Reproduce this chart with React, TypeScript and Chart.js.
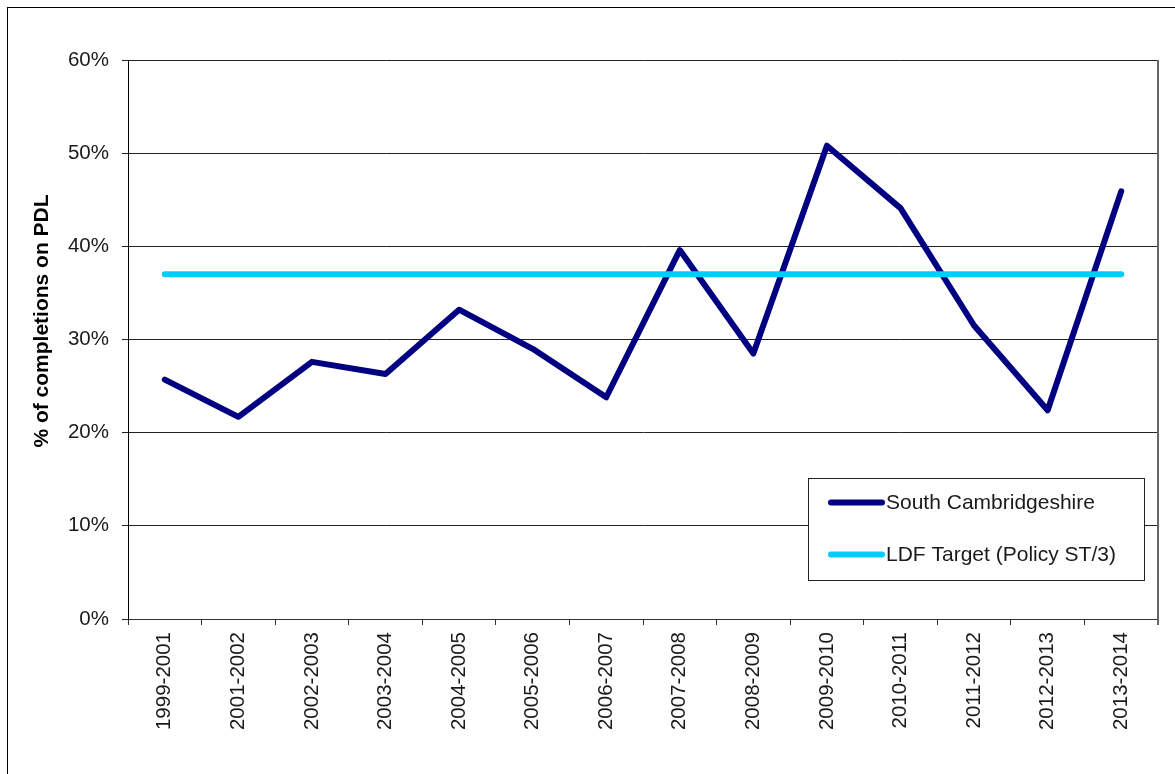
import React, { useEffect, useRef } from "react";
import { Chart, registerables } from "chart.js";

Chart.register(...registerables);

const periods = [
  "1999-2001",
  "2001-2002",
  "2002-2003",
  "2003-2004",
  "2004-2005",
  "2005-2006",
  "2006-2007",
  "2007-2008",
  "2008-2009",
  "2009-2010",
  "2010-2011",
  "2011-2012",
  "2012-2013",
  "2013-2014",
];

const southCambsPdl = [25.7, 21.7, 27.6, 26.3, 33.2, 29.0, 23.8, 39.6, 28.5, 50.8, 44.1, 31.5, 22.4, 45.9];

const ldfTarget = [37, 37, 37, 37, 37, 37, 37, 37, 37, 37, 37, 37, 37, 37];

const yTicksPct = [0, 10, 20, 30, 40, 50, 60];

const FONT = "'Liberation Sans', Arial, sans-serif";

// Y-axis title, drawn a little above the plot's vertical centre
const yTitlePlugin = {
  id: "yTitle",
  afterDraw(chart: any) {
    const { ctx } = chart;
    ctx.save();
    ctx.translate(34.5, 313);
    ctx.rotate(-Math.PI / 2);
    ctx.font = `bold 21px ${FONT}`;
    ctx.fillStyle = "#000";
    ctx.textAlign = "center";
    ctx.textBaseline = "middle";
    ctx.fillText("% of completions on PDL", 0, 0);
    ctx.restore();
  },
};

// Grey right-hand edge of the plot area
const plotEdgePlugin = {
  id: "plotEdge",
  beforeDatasetsDraw(chart: any) {
    const { ctx, chartArea } = chart;
    ctx.save();
    ctx.strokeStyle = "#666";
    ctx.lineWidth = 2;
    ctx.beginPath();
    ctx.moveTo(chartArea.right, chartArea.top);
    ctx.lineTo(chartArea.right, chartArea.bottom + 6);
    ctx.stroke();
    ctx.restore();
  },
};

// Boxed legend sitting inside the lower right of the plot
const boxLegendPlugin = {
  id: "boxLegend",
  afterDraw(chart: any) {
    const { ctx, chartArea } = chart;
    const w = 336;
    const h = 102;
    const x = chartArea.right - 14 - w;
    const y = chartArea.top + 418;
    ctx.save();
    ctx.fillStyle = "#fff";
    ctx.fillRect(x, y, w, h);
    ctx.strokeStyle = "#222";
    ctx.lineWidth = 1;
    ctx.strokeRect(Math.round(x) + 0.5, Math.round(y) + 0.5, w, h);
    const rows = [y + 24.6, y + 76.6];
    chart.data.datasets.forEach((ds: any, i: number) => {
      const ry = rows[i];
      ctx.strokeStyle = ds.borderColor;
      ctx.lineWidth = 6;
      ctx.lineCap = "round";
      ctx.beginPath();
      ctx.moveTo(x + 23, ry);
      ctx.lineTo(x + 74, ry);
      ctx.stroke();
      ctx.fillStyle = "#1a1a1a";
      ctx.font = `21px ${FONT}`;
      ctx.textAlign = "left";
      ctx.textBaseline = "middle";
      ctx.fillText(ds.label, x + 78, ry + 1);
    });
    ctx.restore();
  },
};

export default function App() {
  const canvasRef = useRef<HTMLCanvasElement | null>(null);

  useEffect(() => {
    if (!canvasRef.current) return;
    const chart = new Chart(canvasRef.current, {
      type: "line",
      data: {
        labels: periods,
        datasets: [
          {
            label: "South Cambridgeshire",
            data: southCambsPdl,
            borderColor: "#000080",
            backgroundColor: "#000080",
            borderWidth: 6,
            borderCapStyle: "round",
            borderJoinStyle: "round",
            pointRadius: 0,
            tension: 0,
            order: 1,
          },
          {
            label: "LDF Target (Policy ST/3)",
            data: ldfTarget,
            borderColor: "#00CCFF",
            backgroundColor: "#00CCFF",
            borderWidth: 6,
            borderCapStyle: "round",
            pointRadius: 0,
            tension: 0,
            order: 0,
          },
        ],
      },
      options: {
        responsive: false,
        animation: false,
        layout: { padding: { top: 52, right: 17, left: 0, bottom: 0 } },
        plugins: {
          legend: { display: false },
          tooltip: { enabled: false },
          title: { display: false },
        },
        scales: {
          x: {
            type: "category",
            offset: true,
            grid: {
              offset: true,
              drawOnChartArea: false,
              drawTicks: true,
              tickLength: 6,
              color: "#333",
              lineWidth: 1,
            },
            border: { display: true, color: "#333", width: 1 },
            ticks: {
              autoSkip: false,
              maxRotation: 90,
              minRotation: 90,
              padding: 7,
              color: "#1a1a1a",
              font: { family: FONT, size: 20.5 },
            },
            afterFit(scale: any) {
              scale.height = 155;
            },
          },
          y: {
            min: yTicksPct[0],
            max: yTicksPct[yTicksPct.length - 1],
            afterBuildTicks(scale: any) {
              scale.ticks = yTicksPct.map((v) => ({ value: v }));
            },
            grid: {
              color: "#222",
              lineWidth: 1,
              drawTicks: true,
              tickLength: 6,
            },
            border: { display: true, color: "#000", width: 1 },
            ticks: {
              padding: 13,
              color: "#1a1a1a",
              font: { family: FONT, size: 20.5 },
              callback: (v: any) => `${v}%`,
            },
            afterFit(scale: any) {
              scale.width = 120;
            },
          },
        },
      },
      plugins: [plotEdgePlugin, yTitlePlugin, boxLegendPlugin],
    } as any);
    return () => chart.destroy();
  }, []);

  return (
    <div
      style={{
        position: "fixed",
        left: 7,
        top: 7,
        width: 1168,
        height: 767,
        borderTop: "1px solid #000",
        borderLeft: "1px solid #000",
        boxSizing: "border-box",
        background: "#fff",
      }}
    >
      <canvas
        ref={canvasRef}
        width={1167}
        height={766}
        style={{ display: "block", width: 1167, height: 766 }}
      />
    </div>
  );
}
